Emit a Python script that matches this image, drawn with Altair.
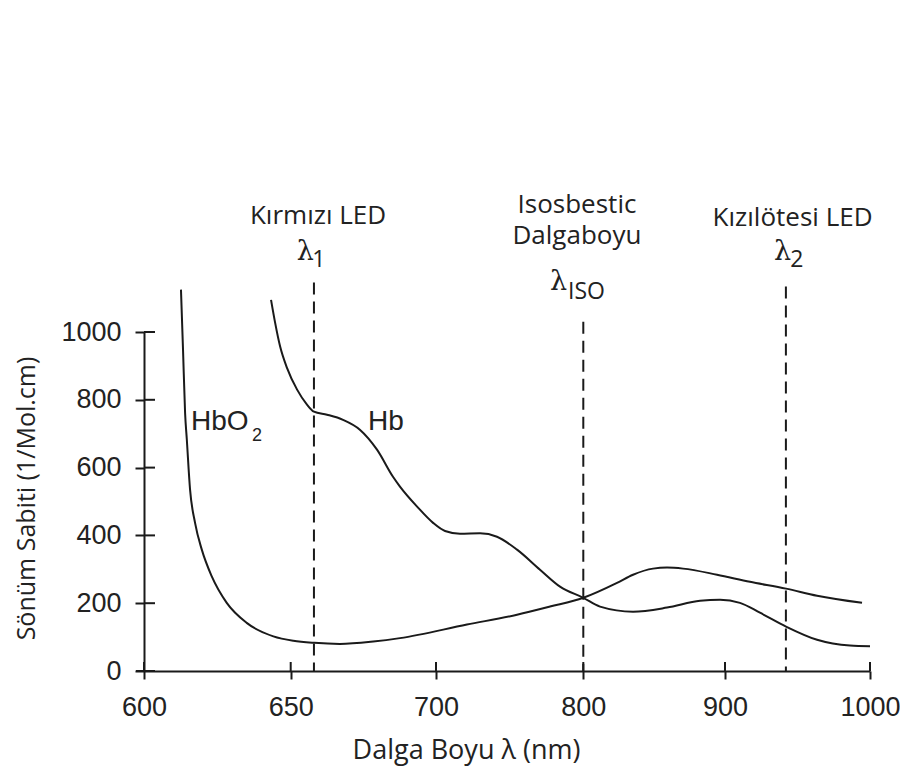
import altair as alt
import pandas as pd

# Extinction spectra (wavelength in nm, coefficient in 1/Mol.cm)
hbo2_nm = [612.6, 613.3, 614.0, 614.6, 615.7, 617.4, 619.7, 623.1, 628.2, 635.0,
           644.1, 650.9, 658.1, 666.9, 678.4, 687.6, 721.0, 755.0, 777.4, 800.0,
           823.8, 835.1, 849.2, 859.1, 870.4, 894.4, 917.2, 942.1, 963.5, 994.5]
hbo2_val = [1125, 948, 762, 682, 535, 437, 358, 279, 201, 142,
            102, 89, 83, 80, 87, 97, 137, 166, 190, 216,
            260, 284, 302, 305, 302, 284, 263, 243, 222, 201]

hb_nm = [643.3, 644.7, 646.4, 648.7, 652.2, 655.6, 658.0, 662.5, 668.0, 673.8,
         679.7, 685.2, 687.6, 693.5, 699.0, 706.1, 716.3, 729.9, 741.4, 755.0,
         770.6, 784.2, 800.0, 811.8, 835.1, 859.1, 882.4, 896.5, 910.3, 924.1,
         942.1, 963.5, 986.2, 1000.0]
hb_val = [1095, 1027, 957, 895, 830, 786, 765, 756, 741, 712,
          653, 573, 544, 485, 437, 413, 405, 406, 396, 358,
          299, 249, 216, 190, 175, 187, 207, 210, 201, 172,
          131, 92, 75, 73]

# Marker wavelengths and the height their dashed guides reach
marker_nm = [658, 800, 942]
marker_top = [1146, 1030, 1134]

x_ticks = [600, 650, 700, 800, 900, 1000]
y_ticks = [0, 200, 400, 600, 800, 1000]

# Header labels above the guides (the isosbestic one spans two lines;
# its y is that of the first line)
head_text = ["Kırmızı LED", "Isosbestic\nDalgaboyu", "Kızılötesi LED"]
head_x = [659.4, 795.7, 946.6]
head_y = [1343, 1376, 1337]

lam_x = [655.0, 783.2, 939.7]
lam_y = [1237, 1148, 1237]
sub_text = ["1", "ISO", "2"]
sub_x = [657.4, 789.6, 945.0]
sub_y = [1213, 1119, 1213]

curve_text = ["HbO", "Hb"]
curve_x = [616.0, 676.6]
curve_y = [734, 734]

W, H = 726, 339
INK = "#1a1a1a"
TXT = "#222"

x_scale = alt.Scale(domain=x_ticks, range=[0, 146.7, 292, 439.3, 581, W], nice=False, zero=False)
y_scale = alt.Scale(domain=[0, 1000], nice=False, zero=False)

curves = pd.DataFrame({
    "nm": hbo2_nm + hb_nm,
    "val": hbo2_val + hb_val,
    "series": ["HbO2"] * len(hbo2_nm) + ["Hb"] * len(hb_nm),
})

x_axis = alt.Axis(
    values=x_ticks, format="d", tickSize=8, tickWidth=2, tickColor=INK, domainColor=INK, domainWidth=2,
    labelFont="Liberation Sans", labelFontSize=27, labelColor=TXT, labelPadding=28,
    labelBaseline="middle", labelFlush=False, grid=False,
    title="Dalga Boyu  λ (nm)", titleFont="Open Sans", titleFontSize=27, titleFontWeight="normal",
    titleColor=TXT, titleX=322, titleY=79, titleAlign="center", titleBaseline="middle",
)
y_axis = alt.Axis(
    values=y_ticks, format="d", tickSize=9, tickWidth=2, tickColor=INK, domainColor=INK, domainWidth=2,
    labelFont="Liberation Sans", labelFontSize=27, labelColor=TXT, labelPadding=14, grid=False,
    title="Sönüm Sabiti (1/Mol.cm)", titleFont="Open Sans", titleFontSize=25, titleFontWeight="normal",
    titleColor=TXT, titleX=-118, titleY=166, titleAlign="center", titleBaseline="middle",
)

lines = alt.Chart(curves).mark_line(color=INK, strokeWidth=2, interpolate="monotone").encode(
    x=alt.X("nm:Q", scale=x_scale, axis=x_axis),
    y=alt.Y("val:Q", scale=y_scale, axis=y_axis),
    detail="series:N",
)

guides = alt.Chart(pd.DataFrame({"nm": marker_nm, "top": marker_top, "base": [0] * 3})).mark_rule(
    color=INK, strokeWidth=2, strokeDash=[12, 7]
).encode(x="nm:Q", y="top:Q", y2="base:Q")

# Inner halves of the crossing tick marks and the short axis overhang
y_inner = alt.Chart(pd.DataFrame({"v": y_ticks})).mark_rule(color=INK, strokeWidth=2).encode(
    y="v:Q", x=alt.value(0), x2=alt.value(11))
x_inner = alt.Chart(pd.DataFrame({"v": x_ticks})).mark_rule(color=INK, strokeWidth=2).encode(
    x="v:Q", y=alt.value(H), y2=alt.value(H - 9))
overhang = alt.Chart(pd.DataFrame({"v": [0]})).mark_rule(color=INK, strokeWidth=2).encode(
    y="v:Q", x=alt.value(-8), x2=alt.value(0))

heads = alt.Chart(pd.DataFrame({"t": head_text, "x": head_x, "y": head_y})).mark_text(
    font="Open Sans", fontSize=26, color=TXT, align="center", baseline="middle",
    lineBreak="\n", lineHeight=31,
).encode(x="x:Q", y="y:Q", text="t:N")

lams = alt.Chart(pd.DataFrame({"t": ["λ"] * 3, "x": lam_x, "y": lam_y})).mark_text(
    font="DejaVu Serif", fontSize=27, color=TXT, align="center", baseline="middle"
).encode(x="x:Q", y="y:Q", text="t:N")

subs = alt.Chart(pd.DataFrame({"t": sub_text, "x": sub_x, "y": sub_y})).mark_text(
    font="Open Sans", fontSize=23, color=TXT, align="left", baseline="middle"
).encode(x="x:Q", y="y:Q", text="t:N")

names = alt.Chart(pd.DataFrame({"t": curve_text, "x": curve_x, "y": curve_y})).mark_text(
    font="Liberation Sans", fontSize=28, color=TXT, align="left", baseline="middle"
).encode(x="x:Q", y="y:Q", text="t:N")

name_sub = alt.Chart(pd.DataFrame({"t": ["2"], "x": [636.8], "y": [694]})).mark_text(
    font="Liberation Sans", fontSize=18, color=TXT, align="left", baseline="middle"
).encode(x="x:Q", y="y:Q", text="t:N")

chart = alt.layer(lines, guides, y_inner, x_inner, overhang, heads, lams, subs, names, name_sub).properties(
    width=W, height=H,
    autosize=alt.AutoSizeParams(type="none"),
    padding={"left": 144, "top": 332, "right": 30, "bottom": 96},
    background="white",
).configure_view(stroke=None)

chart.save("out.html", embed_options={"renderer": "svg", "actions": False})
